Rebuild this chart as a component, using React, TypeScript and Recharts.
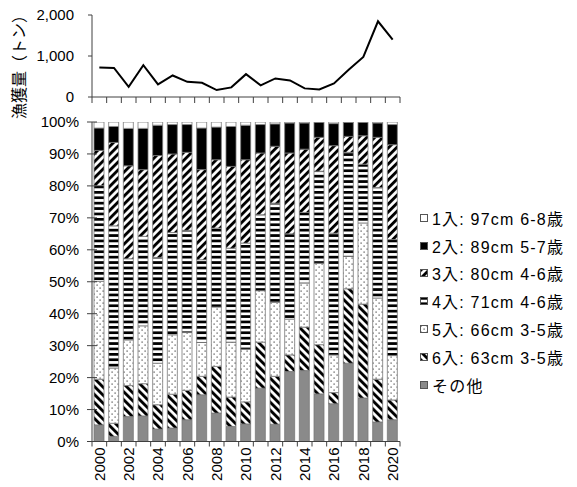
import React from "react";
import { ComposedChart, BarChart, Bar, Line, XAxis, YAxis } from "recharts";

// 年
const years = [
  "2000", "2001", "2002", "2003", "2004", "2005", "2006", "2007", "2008", "2009", "2010",
  "2011", "2012", "2013", "2014", "2015", "2016", "2017", "2018", "2019", "2020",
];

// 漁獲量（トン）
const catchTons = [720, 710, 250, 775, 307, 525, 370, 346, 170, 235, 557, 283, 453, 404, 210, 186, 332, 665, 976, 1847, 1397];

// 年齢別組成（%）
const other = [5.2, 1.6, 7.8, 8.0, 3.9, 4.2, 6.8, 14.6, 8.9, 4.7, 5.5, 16.7, 5.4, 21.9, 22.2, 14.9, 11.8, 24.5, 13.6, 6.1, 6.8];
const age6 = [14.3, 4.1, 9.7, 10.1, 7.6, 10.6, 9.2, 5.8, 14.6, 9.2, 6.9, 14.4, 15.0, 5.2, 13.6, 15.4, 3.5, 23.3, 29.4, 13.4, 6.2];
const age5 = [30.6, 17.3, 14.3, 18.1, 13.0, 18.6, 18.1, 10.6, 18.6, 17.2, 16.5, 16.1, 23.1, 11.2, 13.8, 25.5, 11.8, 10.1, 25.4, 25.4, 13.9];
const age4 = [30.0, 44.5, 25.4, 28.0, 33.1, 32.0, 32.0, 25.9, 24.7, 29.4, 33.2, 23.8, 31.1, 26.7, 22.1, 28.8, 38.1, 32.6, 18.4, 34.6, 36.3];
const age3 = [11.0, 26.1, 29.1, 20.9, 31.9, 24.6, 24.4, 28.2, 21.4, 25.6, 26.1, 19.3, 17.8, 25.3, 19.8, 10.6, 27.4, 5.0, 8.9, 15.7, 29.7];
const age2 = [7.0, 5.0, 11.7, 12.9, 9.5, 9.2, 8.7, 13.0, 10.2, 12.5, 10.8, 8.9, 7.0, 9.4, 8.2, 4.7, 6.9, 4.4, 4.2, 4.5, 6.3];
const age1 = [1.9, 1.4, 2.0, 2.0, 1.0, 0.8, 0.8, 1.9, 1.6, 1.4, 1.0, 0.8, 0.6, 0.3, 0.3, 0.1, 0.5, 0.1, 0.1, 0.3, 0.8];

const catchTicks = [0, 1000, 2000];
const pctTicks = [0, 10, 20, 30, 40, 50, 60, 70, 80, 90, 100];

const catchData = years.map((year, i) => ({ year, tons: catchTons[i] }));
const shareData = years.map((year, i) => ({
  year,
  other: other[i],
  age6: age6[i],
  age5: age5[i],
  age4: age4[i],
  age3: age3[i],
  age2: age2[i],
  age1: age1[i],
}));

// 下から順に積む
const series = [
  { key: "other", name: "その他", fill: "#8a8a8a" },
  { key: "age6", name: "6入: 63cm 3-5歳", fill: "url(#pat6)" },
  { key: "age5", name: "5入: 66cm 3-5歳", fill: "url(#pat5)" },
  { key: "age4", name: "4入: 71cm 4-6歳", fill: "url(#pat4)" },
  { key: "age3", name: "3入: 80cm 4-6歳", fill: "url(#pat3)" },
  { key: "age2", name: "2入: 89cm 5-7歳", fill: "#000" },
  { key: "age1", name: "1入: 97cm 6-8歳", fill: "#fff" },
];

const FONT = '"Liberation Sans", Arial, "Noto Sans CJK JP", sans-serif';
const AXIS = "#404040";
const PLOT_LEFT = 92;
const PLOT_RIGHT = 400;
const HALF = (PLOT_RIGHT - PLOT_LEFT) / years.length / 2;

const BoundaryTick = (props: any) => {
  const { x, y, index, len } = props;
  const last = index === years.length - 1;
  return (
    <g>
      <line x1={x - HALF} x2={x - HALF} y1={y - len} y2={y} stroke={AXIS} />
      {last && <line x1={x + HALF} x2={x + HALF} y1={y - len} y2={y} stroke={AXIS} />}
    </g>
  );
};

const YearTick = (props: any) => {
  const { x, y, payload, index } = props;
  const last = index === years.length - 1;
  const even = Number(payload.value) % 2 === 0;
  return (
    <g>
      <line x1={x - HALF} x2={x - HALF} y1={y - 6} y2={y - 1} stroke={AXIS} />
      {last && <line x1={x + HALF} x2={x + HALF} y1={y - 6} y2={y - 1} stroke={AXIS} />}
      {even && (
        <text
          x={x}
          y={y}
          dy="0.35em"
          textAnchor="end"
          transform={`rotate(-90 ${x} ${y})`}
          fontSize={15}
          fontFamily={FONT}
          fill="#000"
        >
          {payload.value}
        </text>
      )}
    </g>
  );
};

const PctTick = (props: any) => {
  const { x, y, payload } = props;
  return (
    <g>
      <line x1={x + 8} x2={x + 18} y1={y} y2={y} stroke={AXIS} />
      <text x={x} y={y} dy="0.35em" textAnchor="end" fontSize={15} fontFamily={FONT} fill="#000">
        {payload.value}%
      </text>
    </g>
  );
};

const Patterns = () => (
  <svg width={0} height={0} style={{ position: "absolute" }}>
    <defs>
      <pattern id="pat3" width={5.66} height={5.66} patternUnits="userSpaceOnUse" patternTransform="rotate(45)">
        <rect width={5.66} height={5.66} fill="#fff" />
        <rect width={2.9} height={5.66} fill="#000" />
      </pattern>
      <pattern id="pat6" width={5.66} height={5.66} patternUnits="userSpaceOnUse" patternTransform="rotate(-45)">
        <rect width={5.66} height={5.66} fill="#fff" />
        <rect width={2.9} height={5.66} fill="#000" />
      </pattern>
      <pattern id="pat4" width={6} height={5.4} patternUnits="userSpaceOnUse">
        <rect width={6} height={5.4} fill="#fff" />
        <rect width={6} height={2.7} fill="#000" />
      </pattern>
      <pattern id="pat5" width={6} height={6} patternUnits="userSpaceOnUse">
        <rect width={6} height={6} fill="#fff" />
        <rect x={0.5} y={0.5} width={1.2} height={1.2} fill="#444" />
        <rect x={3.5} y={3.5} width={1.2} height={1.2} fill="#444" />
      </pattern>
    </defs>
  </svg>
);

export default function App() {
  return (
    <div style={{ position: "absolute", left: 0, top: 0, width: 577, height: 487, background: "#fff" }}>
      <Patterns />

      <div style={{ position: "absolute", left: 0, top: 0 }}>
        <ComposedChart
          width={577}
          height={110}
          data={catchData}
          margin={{ top: 15, right: 577 - PLOT_RIGHT, bottom: 0, left: 0 }}
        >
          <XAxis
            dataKey="year"
            scale="band"
            height={13}
            interval={0}
            stroke={AXIS}
            tickLine={false}
            tickSize={6}
            tickMargin={0}
            tick={(p: any) => <BoundaryTick {...p} len={6} />}
          />
          <YAxis
            width={PLOT_LEFT}
            domain={[0, 2000]}
            ticks={catchTicks}
            stroke={AXIS}
            tickSize={4}
            tickMargin={14}
            tickFormatter={(v: number) => v.toLocaleString("en-US")}
            tick={{ fontSize: 15, fill: "#000", fontFamily: FONT }}
          />
          <Line
            dataKey="tons"
            type="linear"
            stroke="#000"
            strokeWidth={2}
            dot={false}
            isAnimationActive={false}
          />
        </ComposedChart>
      </div>

      <div style={{ position: "absolute", left: 0, top: 110 }}>
        <BarChart
          width={577}
          height={377}
          data={shareData}
          barSize={10}
          margin={{ top: 12, right: 577 - PLOT_RIGHT, bottom: 0, left: 0 }}
        >
          <XAxis
            dataKey="year"
            height={45.5}
            interval={0}
            stroke={AXIS}
            tickLine={false}
            tickSize={5}
            tickMargin={1}
            tick={(p: any) => <YearTick {...p} />}
          />
          <YAxis
            width={PLOT_LEFT}
            domain={[0, 100]}
            allowDataOverflow
            ticks={pctTicks}
            stroke={AXIS}
            tickLine={false}
            tickSize={5}
            tickMargin={8}
            tick={(p: any) => <PctTick {...p} />}
          />
          {series.map((s) => (
            <Bar
              key={s.key}
              dataKey={s.key}
              name={s.name}
              stackId="share"
              fill={s.fill}
              stroke="#7a7a7a"
              strokeWidth={0.8}
              isAnimationActive={false}
            />
          ))}
        </BarChart>
      </div>

      <svg width={40} height={140} style={{ position: "absolute", left: 0, top: 0 }}>
        <text
          x={19}
          y={63}
          dy="0.35em"
          textAnchor="middle"
          transform="rotate(-90 19 63)"
          fontSize={16}
          fontFamily='"Noto Sans CJK JP", sans-serif'
          fill="#000"
        >
          漁獲量（トン）
        </text>
      </svg>

      <div
        style={{
          position: "absolute",
          left: 420,
          top: 204,
          fontFamily: FONT,
          fontSize: 16,
          letterSpacing: 1.2,
          color: "#000",
        }}
      >
        {[...series].reverse().map((s) => (
          <div key={s.key} style={{ height: 27.8, display: "flex", alignItems: "center", whiteSpace: "nowrap" }}>
            <svg width={8} height={8} style={{ marginRight: 4 }}>
              <rect x={0.5} y={0.5} width={7} height={7} fill={s.fill} stroke="#555" />
            </svg>
            <span>{s.name}</span>
          </div>
        ))}
      </div>
    </div>
  );
}
